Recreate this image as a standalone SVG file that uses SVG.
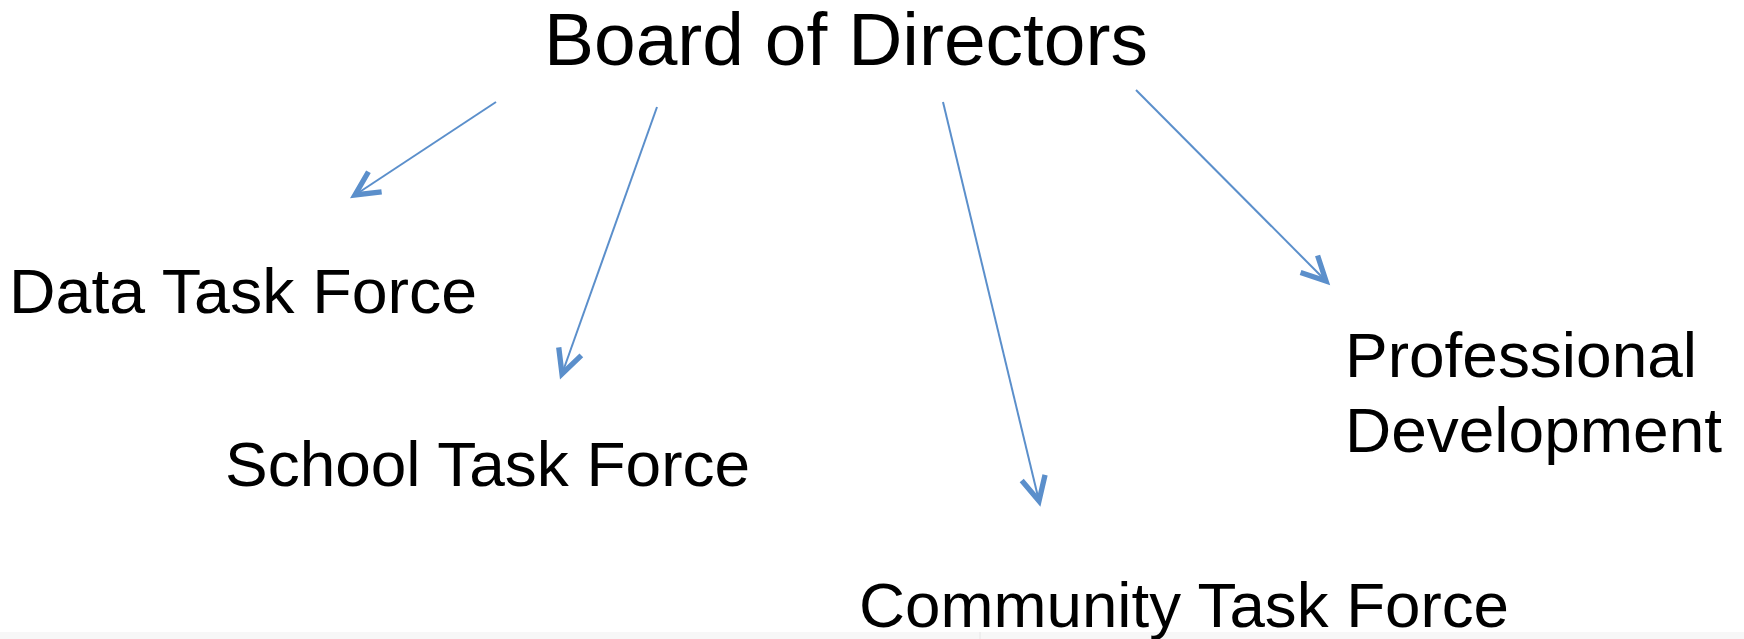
<svg xmlns="http://www.w3.org/2000/svg" width="1744" height="639" viewBox="0 0 1744 639">
<defs>
<style>
text{font-family:"Liberation Sans",Arial,sans-serif;fill:#000}
.c{stroke:#5B8FCB;stroke-width:2;fill:none}
</style>
<marker id="ah" markerUnits="userSpaceOnUse" markerWidth="40" markerHeight="40" viewBox="-24 -14 30 28" refX="0" refY="0" orient="auto">
<path d="M-18,-9 L0,0 L-18,9" fill="none" stroke="#5B8FCB" stroke-width="4" stroke-linejoin="miter"/>
</marker>
</defs>
<rect width="1744" height="639" fill="#fff"/>
<rect y="632" width="1744" height="7" fill="#f7f7f7"/>
<line x1="980" y1="632" x2="980" y2="639" stroke="#e6e6e6" stroke-width="1"/>
<g id="connectors">
<line class="c" x1="496" y1="102" x2="355" y2="195" marker-end="url(#ah)"/>
<line class="c" x1="657" y1="107" x2="562" y2="374" marker-end="url(#ah)"/>
<line class="c" x1="943" y1="102" x2="1039" y2="501" marker-end="url(#ah)"/>
<line class="c" x1="1136" y1="90" x2="1326" y2="281" marker-end="url(#ah)"/>
</g>
<g id="board"><text x="544" y="65" font-size="74" textLength="604" lengthAdjust="spacingAndGlyphs">Board of Directors</text></g>
<g id="data"><text x="9" y="313" font-size="63" textLength="468" lengthAdjust="spacingAndGlyphs">Data Task Force</text></g>
<g id="school"><text x="225" y="486" font-size="62.5" textLength="525" lengthAdjust="spacingAndGlyphs">School Task Force</text></g>
<g id="community"><text x="859" y="627" font-size="62.5" textLength="650" lengthAdjust="spacingAndGlyphs">Community Task Force</text></g>
<g id="professional"><text x="1345" y="377" font-size="63" textLength="352" lengthAdjust="spacingAndGlyphs">Professional</text><text x="1345" y="452" font-size="63" textLength="377" lengthAdjust="spacingAndGlyphs">Development</text></g>
</svg>
